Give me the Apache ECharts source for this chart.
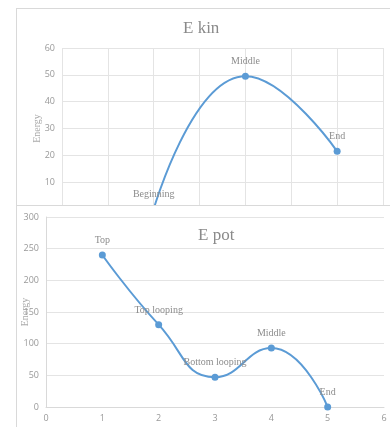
<!DOCTYPE html>
<html><head><meta charset="utf-8">
<script src="https://cdn.jsdelivr.net/npm/echarts@6/dist/echarts.min.js"></script>
<style>
html,body{margin:0;padding:0;width:390px;height:427px;overflow:hidden;background:#fff;position:relative;}
#top{position:absolute;left:16px;top:8px;width:420px;height:240px;border:1px solid #d9d9d9;background:#fff;box-sizing:border-box;}
#bot{position:absolute;left:16px;top:205px;width:420px;height:240px;border:1px solid #d9d9d9;background:#fff;box-sizing:border-box;}
</style></head>
<body>
<div id="top"></div>
<div id="bot"></div>
<script>
const kinTitle = 'E kin';
const kinX = [2, 4, 6];
const kinY = [0, 49.5, 21.5];
const kinLabels = ['Beginning', 'Middle', 'End'];

const potTitle = 'E pot';
const potX = [1, 2, 3, 4, 5];
const potY = [240, 130, 47, 93, 0];
const potLabels = ['Top', 'Top looping', 'Bottom looping', 'Middle', 'End'];

const yName = 'Energy';
const serif = '"Liberation Serif", "DejaVu Serif", serif';
const lineColor = '#5b9bd5';
const gridColor = '#e4e4e4';
const labelColor = '#999';

function makeSeries(xs, ys, labels) {
  return [{
    type: 'line', smooth: 0.5, symbol: 'circle', symbolSize: 7,
    lineStyle: {color: lineColor, width: 2}, itemStyle: {color: lineColor},
    label: {show: true, position: 'top', distance: 6, fontFamily: serif, fontSize: 10, color: '#8c8c8c',
      formatter: p => labels[p.dataIndex]},
    data: xs.map((x, i) => [x, ys[i]])
  }];
}

const topChart = echarts.init(document.getElementById('top'));
topChart.setOption({
  animation: false,
  title: {text: kinTitle, left: 161, top: 6, textStyle: {fontFamily: serif, fontSize: 17, fontWeight: 'normal', color: '#8a8a8a'}},
  grid: {left: 45, top: 39, width: 321, height: 161, containLabel: false, outerBoundsMode: 'none'},
  xAxis: {type: 'value', min: 0, max: 7, interval: 1,
    axisLine: {show: false}, axisTick: {show: false}, axisLabel: {show: false},
    splitLine: {show: true, lineStyle: {color: gridColor}}},
  yAxis: {type: 'value', min: 0, max: 60, interval: 10, name: yName, nameLocation: 'middle', nameGap: 20,
    nameMoveOverlap: false,
    nameTextStyle: {fontFamily: serif, fontSize: 10, color: '#aaa'},
    axisLine: {show: false}, axisTick: {show: false},
    axisLabel: {color: labelColor, fontSize: 9, margin: 7, fontFamily: '"Open Sans", sans-serif'},
    splitLine: {show: true, lineStyle: {color: gridColor}}},
  series: makeSeries(kinX, kinY, kinLabels)
});

const botChart = echarts.init(document.getElementById('bot'));
botChart.setOption({
  animation: false,
  title: {text: potTitle, left: 176, top: 16, textStyle: {fontFamily: serif, fontSize: 17, fontWeight: 'normal', color: '#8a8a8a'}},
  grid: {left: 29, top: 11, width: 338, height: 190, containLabel: false, outerBoundsMode: 'none'},
  xAxis: {type: 'value', min: 0, max: 6, interval: 1,
    axisLine: {show: true, lineStyle: {color: '#d9d9d9'}}, axisTick: {show: false},
    axisLabel: {color: labelColor, fontSize: 9, margin: 7, fontFamily: '"Open Sans", sans-serif'},
    splitLine: {show: false}},
  yAxis: {type: 'value', min: 0, max: 300, interval: 50, name: yName, nameLocation: 'middle', nameGap: 16,
    nameMoveOverlap: false,
    nameTextStyle: {fontFamily: serif, fontSize: 10, color: '#aaa'},
    axisLine: {show: true, lineStyle: {color: '#d9d9d9'}}, axisTick: {show: false},
    axisLabel: {color: labelColor, fontSize: 9, margin: 7, fontFamily: '"Open Sans", sans-serif'},
    splitLine: {show: true, lineStyle: {color: gridColor}}},
  series: makeSeries(potX, potY, potLabels)
});
</script>
</body></html>
